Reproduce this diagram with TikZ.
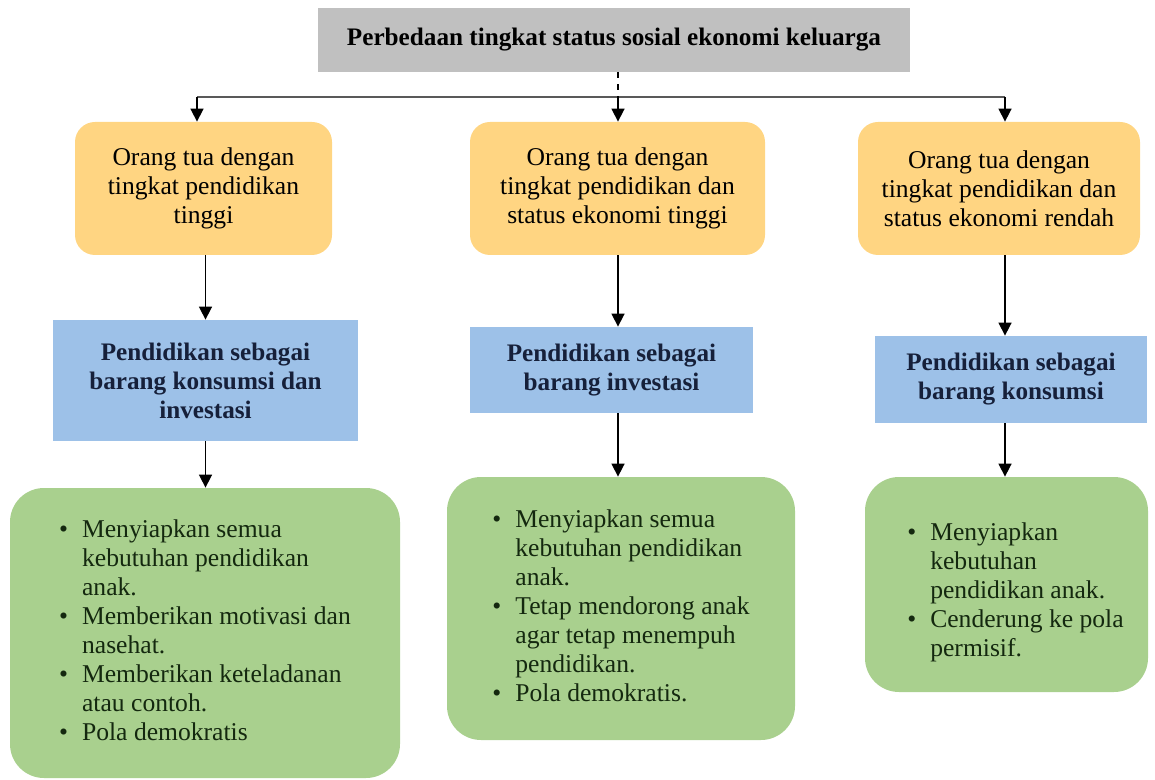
\documentclass[tikz,border=0pt]{standalone}
\usepackage{fontspec}
\setmainfont{Liberation Serif}
\usepackage{tikz}
\usetikzlibrary{arrows.meta}

\definecolor{titlegray}{RGB}{192,192,192}
\definecolor{parentorange}{RGB}{255,213,130}
\definecolor{goodsblue}{RGB}{157,193,232}
\definecolor{itemgreen}{RGB}{169,208,142}
\definecolor{bluetext}{RGB}{22,32,58}
\definecolor{greentext}{RGB}{20,40,15}

\tikzset{
  title/.style={fill=titlegray, minimum width=296pt, minimum height=32pt,
    inner sep=0pt, font=\fontsize{12.6}{14}\selectfont\bfseries},
  parent/.style={fill=parentorange, rounded corners=10pt, minimum height=66.5pt,
    inner sep=0pt, align=center, font=\fontsize{12.8}{14.5}\selectfont},
  goods/.style={fill=goodsblue, minimum height=43pt, inner sep=0pt, align=center,
    text=bluetext, font=\fontsize{12.6}{14.5}\selectfont\bfseries},
  effect/.style={fill=itemgreen, rounded corners=17pt, inner sep=0pt,
    text=greentext, font=\fontsize{12.8}{14.5}\selectfont},
  arr/.style={-{Triangle[width=6.5pt,length=6.5pt]}, line width=0.8pt},
}

\newcommand{\itm}{\textbullet}

\begin{document}
\begin{tikzpicture}[x=0.5pt, y=-0.5pt]
  \useasboundingbox (0,0) rectangle (1155,780);

  % Define nodes
  \node[title] (top) at (614,40) {Perbedaan tingkat status sosial ekonomi keluarga};

  \node[parent, minimum width=128.5pt] (o1) at (203.5,188.5)
    {Orang tua dengan\\tingkat pendidikan\\tinggi};
  \node[parent, minimum width=147.5pt] (o2) at (617.5,188.5)
    {Orang tua dengan\\tingkat pendidikan dan\\status ekonomi tinggi};
  \node[parent, minimum width=141pt] (o3) at (999,188.5)
    {Orang tua dengan\\tingkat pendidikan dan\\status ekonomi rendah};

  \node[goods, minimum width=152.5pt, minimum height=60.5pt] (b1) at (205.5,380.5)
    {Pendidikan sebagai\\barang konsumsi dan\\investasi};
  \node[goods, minimum width=141.5pt] (b2) at (611.5,370)
    {Pendidikan sebagai\\barang investasi};
  \node[goods, minimum width=136pt, minimum height=43.5pt] (b3) at (1011,379.5)
    {Pendidikan sebagai\\barang konsumsi};

  \node[effect, minimum width=195pt, minimum height=145pt] (g1) at (205,633)
    {\begin{tabular}{@{}c@{\hspace{7pt}}l@{}}
      \itm & Menyiapkan semua\\
           & kebutuhan pendidikan\\
           & anak.\\
      \itm & Memberikan motivasi dan\\
           & nasehat.\\
      \itm & Memberikan keteladanan\\
           & atau contoh.\\
      \itm & Pola demokratis
    \end{tabular}};
  \node[effect, minimum width=174pt, minimum height=131.5pt] (g2) at (621,608.5)
    {\begin{tabular}{@{}c@{\hspace{7pt}}l@{}}
      \itm & Menyiapkan semua\\
           & kebutuhan pendidikan\\
           & anak.\\
      \itm & Tetap mendorong anak\\
           & agar tetap menempuh\\
           & pendidikan.\\
      \itm & Pola demokratis.
    \end{tabular}};
  \node[effect, minimum width=141.5pt, minimum height=107.5pt] (g3) at (1006.5,584.5)
    {\hspace*{9pt}\raisebox{-7pt}[0pt][0pt]{\begin{tabular}{@{}c@{\hspace{7pt}}l@{}}
      \itm & Menyiapkan\\
           & kebutuhan\\
           & pendidikan anak.\\
      \itm & Cenderung ke pola\\
           & permisif.
    \end{tabular}}};

  \coordinate (split) at (618,97);
  \coordinate (hl) at (197,97);
  \coordinate (hr) at (1005,97);

  % Connect nodes
  \draw[gray!70!black, line width=1.4pt] (hl) -- (hr);
  \draw[dashed, line width=0.8pt] (top.south -| split) -- (split);
  \draw[arr] (split) -- (split |- o2.north);
  \draw[arr] (hl) -- (hl |- o1.north);
  \draw[arr] (hr) -- (hr |- o3.north);

  \draw[arr] (o1.south -| b1) -- (b1.north);
  \draw[arr] (o2.south -| split) -- (split |- b2.north);
  \draw[arr] (o3.south -| hr) -- (hr |- b3.north);

  \draw[arr] (b1.south) -- (b1.south |- g1.north);
  \draw[arr] (b2.south -| split) -- (split |- g2.north);
  \draw[arr] (b3.south -| hr) -- (hr |- g3.north);
\end{tikzpicture}
\end{document}
